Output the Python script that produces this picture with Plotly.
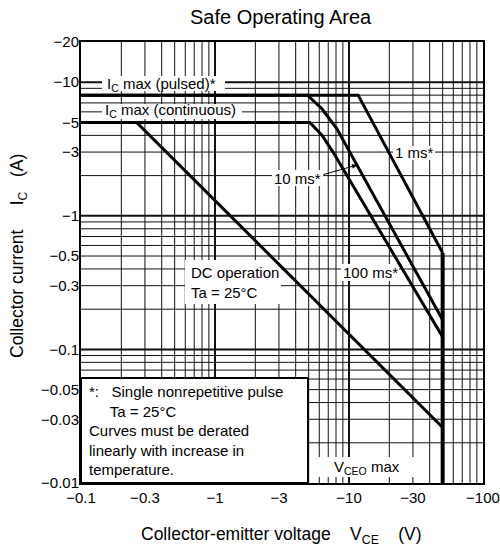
import math
import plotly.graph_objects as go

# ---- data (magnitudes; the chart shows them as negative values) ----
v_1ms = [0.1, 11.7, 50]
i_1ms = [8, 8, 0.527]
v_10ms = [0.1, 4.9, 6.3, 8.1, 50]
i_10ms = [8, 8, 6.3, 4.5, 0.166]
v_100ms = [0.1, 5.1, 6.3, 7.6, 50]
i_100ms = [5, 5, 4.0, 3.0, 0.124]
v_dc = [0.1, 0.26, 50]
i_dc = [5, 5, 0.026]
v_vceo = [50, 50]
i_vceo = [0.527, 0.01]

x_grid = [0.2, 0.3, 0.4, 0.5, 0.6, 0.7, 0.8, 0.9,
          2, 3, 4, 5, 6, 7, 8, 9,
          20, 30, 40, 50, 60, 70, 80, 90]
y_grid = [0.02, 0.03, 0.04, 0.05, 0.06, 0.07, 0.08, 0.09,
          0.2, 0.3, 0.4, 0.5, 0.6, 0.7, 0.8, 0.9,
          2, 3, 4, 5, 6, 7, 8, 9]
x_decades = [1, 10]
y_decades = [0.1, 1, 10]
x_tickvals = [0.1, 0.3, 1, 3, 10, 30, 100]
x_ticktext = ["\u22120.1", "\u22120.3", "\u22121", "\u22123", "\u221210", "\u221230", "\u2212100"]
y_tickvals = [0.01, 0.03, 0.05, 0.1, 0.3, 0.5, 1, 3, 5, 10, 20]
y_ticktext = ["\u22120.01", "\u22120.03", "\u22120.05", "\u22120.1", "\u22120.3", "\u22120.5",
              "\u22121", "\u22123", "\u22125", "\u221210", "\u221220"]

X_RANGE = [-1, 2]
Y_RANGE = [-2, math.log10(20)]

FONT = "Liberation Sans, Arial, sans-serif"
W, H = 500, 550
L, R, T, B = 81, 483, 42, 483  # plot area in page pixels


def px(x):
    return (x - L) / (R - L)


def py(y):
    return (B - y) / (B - T)


def xv(v):
    return (math.log10(v) - X_RANGE[0]) / (X_RANGE[1] - X_RANGE[0])


def yv(v):
    return (math.log10(v) - Y_RANGE[0]) / (Y_RANGE[1] - Y_RANGE[0])


fig = go.Figure()
line = dict(color="black", width=3)
for v, i in [(v_1ms, i_1ms), (v_10ms, i_10ms), (v_100ms, i_100ms), (v_dc, i_dc)]:
    fig.add_trace(go.Scatter(x=v, y=i, mode="lines", line=line, showlegend=False,
                             hoverinfo="skip"))
fig.add_trace(go.Scatter(x=v_vceo, y=i_vceo, mode="lines",
                         line=dict(color="black", width=4), showlegend=False,
                         hoverinfo="skip"))

fig.update_xaxes(type="log", range=X_RANGE, tickmode="array", tickvals=x_tickvals,
                 ticktext=x_ticktext, showgrid=False, automargin=False,
                 showline=True, linecolor="black", linewidth=2, mirror=True,
                 ticks="", zeroline=False,
                 tickfont=dict(family=FONT, size=15, color="black"))
fig.update_yaxes(type="log", range=Y_RANGE, tickmode="array", tickvals=y_tickvals,
                 ticktext=y_ticktext, showgrid=False, automargin=False,
                 showline=True, linecolor="black", linewidth=2, mirror=True,
                 ticks="", zeroline=False, ticklabelstandoff=-3,
                 tickfont=dict(family=FONT, size=15, color="black"))

grid_col = "#111111"
shapes = []
for v in x_grid:
    shapes.append(dict(type="line", xref="paper", yref="paper", x0=xv(v), x1=xv(v),
                       y0=0, y1=1, line=dict(color=grid_col, width=1), layer="below"))
for v in x_decades:
    shapes.append(dict(type="line", xref="paper", yref="paper", x0=xv(v), x1=xv(v),
                       y0=0, y1=1, line=dict(color=grid_col, width=2), layer="below"))
for v in y_grid:
    shapes.append(dict(type="line", xref="paper", yref="paper", y0=yv(v), y1=yv(v),
                       x0=0, x1=1, line=dict(color=grid_col, width=1), layer="below"))
for v in y_decades:
    shapes.append(dict(type="line", xref="paper", yref="paper", y0=yv(v), y1=yv(v),
                       x0=0, x1=1, line=dict(color=grid_col, width=2), layer="below"))

# white label backgrounds (above grid, below curves)
boxes = [
    (102, 76, 225, 91),    # Ic max pulsed
    (102, 104, 242, 119),  # Ic max continuous
    (185, 260, 281, 304),  # DC operation
    (272, 170, 323, 186),  # 10 ms
    (393, 146, 435, 160),  # 1 ms
    (341, 264, 399, 281),  # 100 ms
    (318, 457, 415, 477),  # VCEO max
]
for x0, y0, x1, y1 in boxes:
    shapes.append(dict(type="rect", xref="paper", yref="paper",
                       x0=px(x0), x1=px(x1), y0=py(y1), y1=py(y0),
                       fillcolor="white", line=dict(width=0), layer="below"))
shapes.append(dict(type="rect", xref="paper", yref="paper",
                   x0=0, x1=px(308), y0=0, y1=py(378),
                   fillcolor="white", line=dict(color="black", width=2),
                   layer="below"))

ann_font = dict(family=FONT, size=15, color="black")
nb = "\u00a0"
annotations = [
    dict(text="I<sub>C</sub> max (pulsed)*", x=px(105), y=py(84), xanchor="left",
         yanchor="middle"),
    dict(text="I<sub>C</sub> max (continuous)", x=px(103), y=py(111), xanchor="left",
         yanchor="middle"),
    dict(text="DC operation<br>Ta = 25\u00b0C", x=px(189), y=py(282), xanchor="left",
         yanchor="middle", align="left"),
    dict(text="1 ms*", x=px(414), y=py(153), xanchor="center", yanchor="middle"),
    dict(text="10 ms*", x=px(297), y=py(178), xanchor="center", yanchor="middle"),
    dict(text="100 ms*", x=px(370), y=py(272), xanchor="center", yanchor="middle"),
    dict(text="V<sub>CEO</sub> max", x=px(367), y=py(467), xanchor="center",
         yanchor="middle"),
    dict(text="*:" + nb * 3 + "Single nonrepetitive pulse<br>" + nb * 5 +
         "Ta = 25\u00b0C<br>Curves must be derated<br>linearly with increase in<br>temperature.",
         x=px(87), y=py(430), xanchor="left", yanchor="middle", align="left"),
    dict(text="Safe Operating Area", x=px(281), y=py(17), xanchor="center",
         yanchor="middle", font=dict(family=FONT, size=20, color="black")),
    dict(text="Collector-emitter voltage" + nb * 4 + "V<sub>CE</sub>" + nb * 4 + "(V)",
         x=px(281), y=py(535), xanchor="center", yanchor="middle",
         font=dict(family=FONT, size=17.5, color="black")),
    dict(text="Collector current" + nb * 5 + "I<sub>C</sub>" + nb * 3 + "(A)",
         x=px(18), y=py(256), xanchor="center", yanchor="middle", textangle=-90,
         font=dict(family=FONT, size=17.5, color="black")),
]
for a in annotations:
    a.setdefault("font", ann_font)
    a.update(xref="paper", yref="paper", showarrow=False)

# arrow for 10 ms label
annotations.append(dict(text="", xref="paper", yref="paper", x=px(357), y=py(165),
                        ax=-35, ay=10, showarrow=True, arrowhead=2, arrowsize=1,
                        arrowwidth=1, arrowcolor="black"))

fig.update_layout(width=W, height=H, autosize=False,
                  margin=dict(l=L, r=W - R, t=T, b=H - B, pad=0),
                  paper_bgcolor="white", plot_bgcolor="white",
                  shapes=shapes, annotations=annotations,
                  font=dict(family=FONT, color="black"))

fig.write_html("out.html",
               config={"displayModeBar": False},
               post_script="document.body.style.margin='0px';"
                           "document.documentElement.style.overflow='hidden';")
